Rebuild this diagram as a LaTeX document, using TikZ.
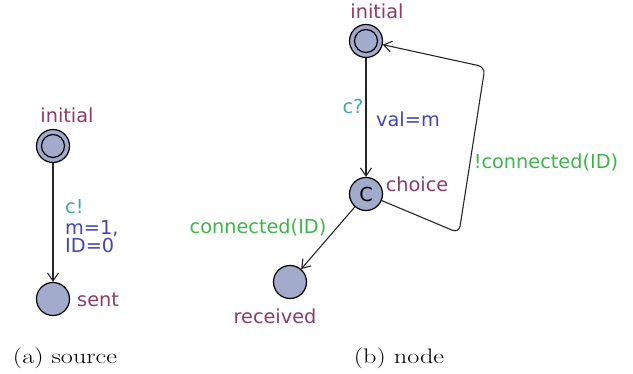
\documentclass[tikz,border=0pt]{standalone}
\usepackage{fontspec}
\newfontfamily\uppfont{DejaVu Sans}
\usetikzlibrary{arrows.meta,positioning}
\definecolor{locfill}{RGB}{163,171,204}
\definecolor{locname}{RGB}{140,58,103}
\definecolor{syncol}{RGB}{64,168,168}
\definecolor{updcol}{RGB}{69,69,176}
\definecolor{guardcol}{RGB}{61,181,74}
\newcommand{\capwide}[1]{\scalebox{1.25}[1]{#1}}
\begin{document}
\begin{tikzpicture}[x=1pt,y=1pt,inner sep=0pt,node distance=153pt,
  >={Straight Barb[length=8pt,width=11pt,line width=1.1pt]},
  loc/.style={draw,circle,fill=locfill,minimum size=33pt,line width=1.2pt},
  initloc/.style={loc,path picture={\draw[line width=1.2pt] (path picture bounding box.center) circle (11.5pt);}},
  txt/.style={font=\uppfont\fontsize{19.3}{18}\selectfont},
  lname/.style={txt,text=locname},
  sync/.style={txt,text=syncol},
  upd/.style={txt,text=updcol,align=left},
  guard/.style={txt,text=guardcol},
  trans/.style={->,line width=1.1pt,black!85},
  caption/.style={font=\fontsize{21}{24}\selectfont}]
\useasboundingbox (0,0) rectangle (633,374);
% (a) source
\draw node [initloc] at (53,228) (srcinit) {};
\draw node [loc] [below of=srcinit] (sent) {};
\node [lname] at (67,259) (srcinitname) {initial};
\node [lname,anchor=west] at (77,74) (sentname) {sent};
\draw [trans] (srcinit) -- (sent);
\node [sync,anchor=west] at (65,167) (srcsync) {c!};
\node [upd,anchor=north west] at (65,154) (srcupd) {m=1,\\ID=0};
% (b) node
\draw node [initloc] at (366,333) (ninit) {};
\draw node [loc] [below of=ninit] (choice) {};
\draw node [loc] at (290,92) (received) {};
\node [txt] at (choice) (choicec) {C};
\node [lname] at (377,363) (ninitname) {initial};
\node [lname] at (417,190) (choicename) {choice};
\node [lname] at (275,58) (receivedname) {received};
\draw [trans] (ninit) -- (choice);
\draw [trans] (choice) -- (received);
\draw [trans,rounded corners=7pt] (choice) -- (459,141) -- (485,307) -- (ninit);
\node [sync] at (353,268) (nsync) {c?};
\node [upd] at (408,255) (nupd) {val=m};
\node [guard] at (258,147) (yesguard) {connected(ID)};
\node [guard] at (546,212) (noguard) {!connected(ID)};
% captions
\node [caption] at (65,16) (capa) {\capwide{(a) source}};
\node [caption] at (399,16) (capb) {\capwide{(b) node}};
\end{tikzpicture}
\end{document}
